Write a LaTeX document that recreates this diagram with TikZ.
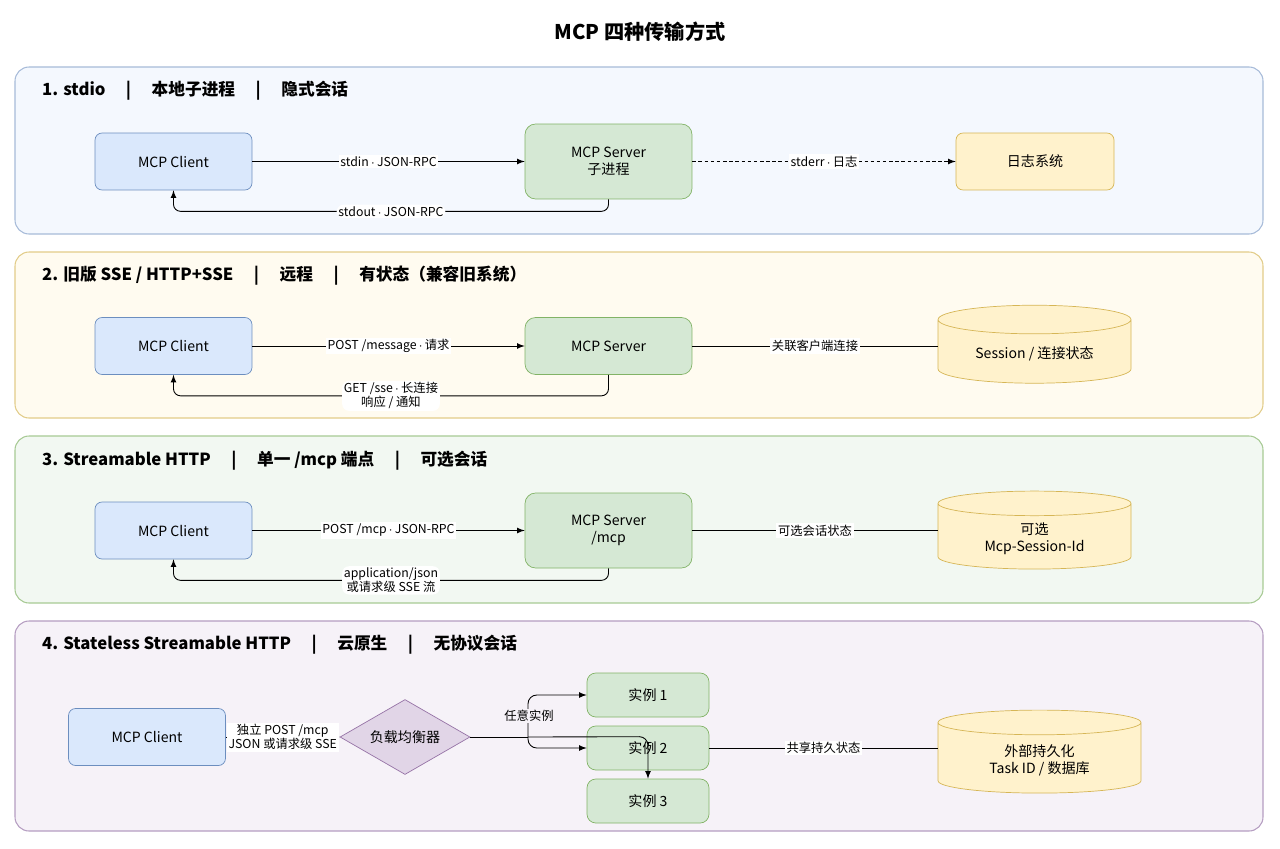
\documentclass[tikz,border=0pt]{standalone}
\usepackage{fontspec}
\setmainfont{Noto Sans CJK SC}
\usetikzlibrary{shapes.geometric, arrows, calc, positioning}
\definecolor{blueF}{HTML}{DAE8FC}\definecolor{blueD}{HTML}{6C8EBF}
\definecolor{greenF}{HTML}{D5E8D4}\definecolor{greenD}{HTML}{82B366}
\definecolor{yellowF}{HTML}{FFF2CC}\definecolor{yellowD}{HTML}{D6B656}
\definecolor{purpleF}{HTML}{E1D5E7}\definecolor{purpleD}{HTML}{9673A6}
\newcommand{\md}{\,$\cdot$\,}
\tikzstyle{panel} = [draw, rounded corners=8pt, line width=0.6pt]
\tikzstyle{client} = [rectangle, rounded corners=4pt, draw=blueD, fill=blueF, minimum width=3.14cm, minimum height=1.14cm, align=center]
\tikzstyle{server} = [rectangle, rounded corners=6pt, draw=greenD, fill=greenF, minimum width=3.34cm, minimum height=1.5cm, align=center]
\tikzstyle{inst} = [rectangle, rounded corners=5pt, draw=greenD, fill=greenF, minimum width=2.44cm, minimum height=0.88cm]
\tikzstyle{store} = [cylinder, shape border rotate=90, aspect=0.22, draw=yellowD, fill=yellowF, minimum width=3.86cm, minimum height=1.56cm, align=center]
\tikzstyle{logbox} = [rectangle, rounded corners=4pt, draw=yellowD, fill=yellowF, minimum width=3.16cm, minimum height=1.14cm]
\tikzstyle{heading} = [anchor=west, font=\fontsize{9.5}{11}\selectfont\bfseries]
\tikzstyle{lbl} = [fill=white, inner sep=1pt, align=center, font=\fontsize{7}{8}\selectfont]
\tikzstyle{arrow} = [->, >=latex, line width=0.5pt]
\begin{document}
\begin{tikzpicture}[x=0.02cm, y=-0.02cm, font=\fontsize{8}{9.5}\selectfont]
	\useasboundingbox[fill=white] (0,0) rectangle (1280,848);
	\node (Title) [font=\fontsize{11.5}{13}\selectfont\bfseries] at (640,32) {MCP 四种传输方式};
	% panels
	\draw[panel, draw=blueD!60, fill=blueF!30] (15,67) rectangle (1263,234);
	\draw[panel, draw=yellowD!70, fill=yellowF!30] (15,252) rectangle (1263,418);
	\draw[panel, draw=greenD!70, fill=greenF!30] (15,436) rectangle (1263,603);
	\draw[panel, draw=purpleD!70, fill=purpleF!30] (15,621) rectangle (1263,831);
	\node (H1) [heading] at (36,91) {1. stdio \quad | \quad 本地子进程 \quad | \quad 隐式会话};
	\node (H2) [heading] at (36,276) {2. 旧版 SSE / HTTP+SSE \quad | \quad 远程 \quad | \quad 有状态（兼容旧系统）};
	\node (H3) [heading] at (36,461) {3. Streamable HTTP \quad | \quad 单一 /mcp 端点 \quad | \quad 可选会话};
	\node (H4) [heading] at (36,645) {4. Stateless Streamable HTTP \quad | \quad 云原生 \quad | \quad 无协议会话};
	% 1. stdio
	\node (ClientA) [client] at (173.5,161.5) {MCP Client};
	\node (ServerA) [server] at (608.5,161.5) {MCP Server\\子进程};
	\node (Log) [logbox] at (1035,161.5) {日志系统};
	\draw[arrow] (ClientA) -- node[lbl]{stdin\md JSON-RPC} (ServerA);
	\draw[arrow, rounded corners=4pt] (ServerA.south) |- node[lbl, pos=0.75]{stdout\md JSON-RPC} ($(ClientA.south)+(0,21)$) -- (ClientA.south);
	\draw[arrow, densely dashed, dash pattern=on 2pt off 1.5pt] (ServerA) -- node[lbl]{stderr\md 日志} (Log);
	% 2. SSE
	\node (ClientB) [client] at (173.5,346) {MCP Client};
	\node (ServerB) [server, minimum height=1.14cm] at (608.5,346) {MCP Server};
	\node (SessB) [store] at (1034.5,354) {Session / 连接状态};
	\draw[arrow] (ClientB) -- node[lbl]{POST /message\md 请求} (ServerB);
	\draw[arrow, rounded corners=4pt] (ServerB.south) |- node[lbl, pos=0.75]{GET /sse\md 长连接\\响应 / 通知} ($(ClientB.south)+(0,21)$) -- (ClientB.south);
	\draw (ServerB) -- node[lbl]{关联客户端连接} (ServerB -| SessB.west);
	% 3. Streamable HTTP
	\node (ClientC) [client] at (173.5,530.5) {MCP Client};
	\node (ServerC) [server] at (608.5,530.5) {MCP Server\\/mcp};
	\node (SessC) [store] at (1034.5,538.5) {可选\\Mcp-Session-Id};
	\draw[arrow] (ClientC) -- node[lbl]{POST /mcp\md JSON-RPC} (ServerC);
	\draw[arrow, rounded corners=4pt] (ServerC.south) |- node[lbl, pos=0.75]{application/json\\或请求级 SSE 流} ($(ClientC.south)+(0,21)$) -- (ClientC.south);
	\draw (ServerC) -- node[lbl]{可选会话状态} (ServerC -| SessC.west);
	% 4. Stateless
	\node (ClientD) [client] at (147,737) {MCP Client};
	\node (Balancer) [diamond, draw=purpleD, fill=purpleF, minimum width=2.6cm, minimum height=1.5cm, aspect=1.73, inner sep=0pt] at (405,737) {负载均衡器};
	\node (Inst1) [inst] at (648,695) {实例 1};
	\node (Inst2) [inst] at (648,748) {实例 2};
	\node (Inst3) [inst] at (648,801) {实例 3};
	\node (Store) [store, minimum width=4.06cm, minimum height=1.66cm] at (1039.5,760) {外部持久化\\Task ID / 数据库};
	\coordinate (Fork) at (528,737);
	\draw[arrow] (ClientD) -- node[lbl]{独立 POST /mcp\\JSON 或请求级 SSE} (Balancer);
	\draw (Balancer.east) -- (Fork);
	\draw[arrow, rounded corners=5pt] (Fork) |- (Inst1.west);
	\draw[arrow, rounded corners=5pt] (Fork) |- (Inst2.west);
	\draw[arrow, rounded corners=5pt] (Fork) -- ($(Inst3.north)+(0,-42)$) -- (Inst3.north);
	\node (Any) [lbl, fill=purpleF!30] at (529,716) {任意实例};
	\draw (Inst2) -- node[lbl]{共享持久状态} (Inst2 -| Store.west);
\end{tikzpicture}
\end{document}
